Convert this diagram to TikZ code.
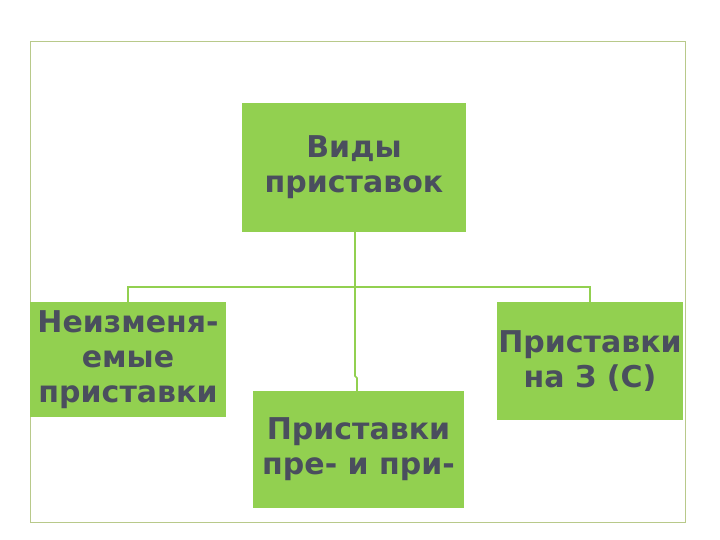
\documentclass[tikz,border=0pt]{standalone}
\usepackage{fontspec}
\setmainfont{DejaVu Sans}
\definecolor{boxgreen}{HTML}{92D050}
\definecolor{framecol}{HTML}{B8C98A}
\definecolor{txt}{HTML}{4A4E5E}
\begin{document}
\begin{tikzpicture}[x=1pt,y=-1pt,
  box/.style={fill=boxgreen,draw=none,inner sep=0pt,align=center,text=txt,
    font=\bfseries\fontsize{30}{35}\selectfont},
  link/.style={draw=boxgreen,line width=1.6pt}]
\useasboundingbox (0,0) rectangle (720,540);
\draw[framecol,line width=1pt] (30,42) rectangle (685,522);
\node[box,minimum width=224pt,minimum height=129pt] (top) at (354,167.5) {Виды\\приставок};
\node[box,minimum width=196pt,minimum height=115pt] (left) at (128,359.5) {Неизменя-\\емые\\приставки};
\node[box,minimum width=211pt,minimum height=117pt] (mid) at (358.5,449.5) {Приставки\\пре- и при-};
\node[box,minimum width=186pt,minimum height=118pt] (right) at (590,361) {Приставки\\на З (С)};
\coordinate (hub) at (355,287);
\draw[link] (top.south -| hub) -- (hub);
\draw[link] (hub) -| (left.north);
\draw[link] (hub) -| (right.north);
\draw[link] (hub) -- (355,376) -- (357,378) -- (mid.north -| 357,0);
\end{tikzpicture}
\end{document}
